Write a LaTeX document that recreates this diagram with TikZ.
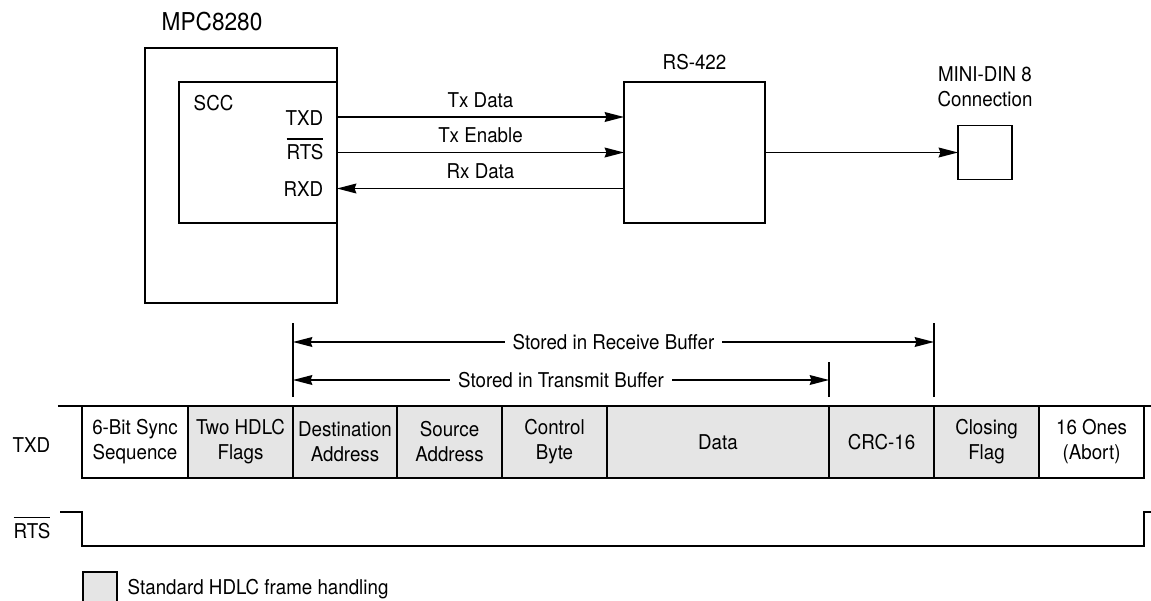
\documentclass[tikz,border=0pt]{standalone}
\usepackage{fontspec}
\setmainfont{TeX Gyre Heros}[FakeStretch=0.92]
\usetikzlibrary{positioning,arrows.meta}

\definecolor{hdlcgray}{gray}{0.9}
\newcommand\ovl[1]{\setbox0=\hbox{#1}\rlap{\rule[\dimexpr\ht0+2.6pt\relax]{\wd0}{.7pt}}\box0}

\tikzset{
  blk/.style={draw,outer sep=0pt,inner sep=0pt},
  cell/.style={draw,outer sep=0pt,inner sep=0pt,minimum height=1.44cm,align=center},
  hdlc/.style={cell,fill=hdlcgray},
  sig/.style={-{Stealth[length=11pt,width=5.6pt,inset=1pt]}},
  buf/.style={{Stealth[length=11pt,width=5.6pt,inset=1pt]}-{Stealth[length=11pt,width=5.6pt,inset=1pt]}},
  pinlbl/.style={anchor=base east,inner sep=0pt},
}

\begin{document}
\begin{tikzpicture}[x=.2mm,y=-.2mm,line width=.85pt,font=\fontsize{11.6}{14.2}\selectfont]
\useasboundingbox (0,0) rectangle (1151,601);
% blocks
\node[blk,minimum width=3.84cm,minimum height=5.1cm] (mpc) at (241,175.5) {};
\node[blk,minimum width=3.16cm,minimum height=2.82cm] (scc) at (258,152.5) {};
\node[blk,minimum width=2.82cm,minimum height=2.82cm] (rs) at (694.5,152.5) {};
\node[blk,minimum width=1.08cm,minimum height=1.08cm] (din) at (985,152.5) {};
\node[inner sep=0pt,font=\fontsize{14}{16}\selectfont,above right=3.2mm and 3.2mm of mpc.north west] (mpclbl) {MPC8280};
\node[inner sep=0pt,below right=2.6mm and 2.8mm of scc.north west] (scclbl) {SCC};
\node[inner sep=0pt,above=2.2mm of rs] (rslbl) {RS-422};
\node[inner sep=0pt,align=center,above=3.6mm of din] (dinlbl) {MINI-DIN 8\\Connection};

% SCC pins
\coordinate (txdA) at ([yshift=7.1mm]scc.east);
\coordinate (rtsA) at (scc.east);
\coordinate (rxdA) at ([yshift=-7.2mm]scc.east);
\node[pinlbl] (txd) at ([xshift=-2.6mm,yshift=-1.6mm]txdA) {TXD};
\node[pinlbl] (rts) at ([xshift=-2.6mm,yshift=-1.4mm]rtsA) {\ovl{RTS}};
\node[pinlbl] (rxd) at ([xshift=-2.6mm,yshift=-1.5mm]rxdA) {RXD};
\draw[sig] (txdA) -- node[above,inner sep=5pt] (txlbl) {Tx Data} (txdA -| rs.west);
\draw[sig] (rtsA) -- node[above,inner sep=5pt] (enlbl) {Tx Enable} (rtsA -| rs.west);
\draw[sig] (rxdA -| rs.west) -- node[above,inner sep=5pt] (rxlbl) {Rx Data} (rxdA);
\draw[sig] (rs) -- (din);

% frame
\node[cell,minimum width=2.12cm] (sync) at (135,442) {6-Bit Sync\\Sequence};
\node[hdlc,minimum width=2.1cm,right=0pt of sync] (flags) {Two HDLC\\Flags};
\node[hdlc,minimum width=2.08cm,right=0pt of flags] (dest) {Destination\\Address};
\node[hdlc,minimum width=2.1cm,right=0pt of dest] (src) {Source\\Address};
\node[hdlc,minimum width=2.1cm,right=0pt of src] (ctrl) {Control\\Byte};
\node[hdlc,minimum width=4.44cm,right=0pt of ctrl] (data) {Data};
\node[hdlc,minimum width=2.1cm,right=0pt of data] (crc) {CRC-16};
\node[hdlc,minimum width=2.1cm,right=0pt of crc] (close) {Closing\\Flag};
\node[cell,minimum width=2.1cm,right=0pt of close] (ones) {16 Ones\\(Abort)};
\draw ([xshift=-4.8mm]sync.north west) -- (sync.north west);
\draw (ones.north east) -- ([xshift=1.4mm]ones.north east);
\node[anchor=base west,inner sep=0pt] (txdfr) at (12,452) {TXD};

% buffer spans
\draw ([yshift=1.8mm]dest.north west) -- ([yshift=16.6mm]dest.north west);
\draw ([yshift=1.8mm]close.north west) -- ([yshift=16.6mm]close.north west);
\draw ([yshift=1.8mm]crc.north west) -- ([yshift=8.8mm]crc.north west);
\coordinate (rcvL) at ([yshift=12.8mm]dest.north west);
\coordinate (rcvR) at ([yshift=12.8mm]close.north west);
\coordinate (trmL) at ([yshift=5.2mm]dest.north west);
\coordinate (trmR) at ([yshift=5.2mm]crc.north west);
\draw[buf] (rcvL) -- node[fill=white,inner xsep=4.5pt,inner ysep=1pt] (rcvlbl) {Stored in Receive Buffer} (rcvR);
\draw[buf] (trmL) -- node[fill=white,inner xsep=4.5pt,inner ysep=1pt] (trmlbl) {Stored in Transmit Buffer} (trmR);

% RTS line
\node[anchor=base west,inner sep=0pt] (rtsfr) at (13,538) {\ovl{RTS}};
\draw (60,512) -- (82,512) -- (82,546) -- (1144,546) -- (1144,512) -- (1151,512);

% key
\node[blk,fill=hdlcgray,minimum width=.68cm,minimum height=.68cm] (key) at (100,589) {};
\node[inner sep=0pt,right=2mm of key] (keylbl) {Standard HDLC frame handling};
\end{tikzpicture}
\end{document}
